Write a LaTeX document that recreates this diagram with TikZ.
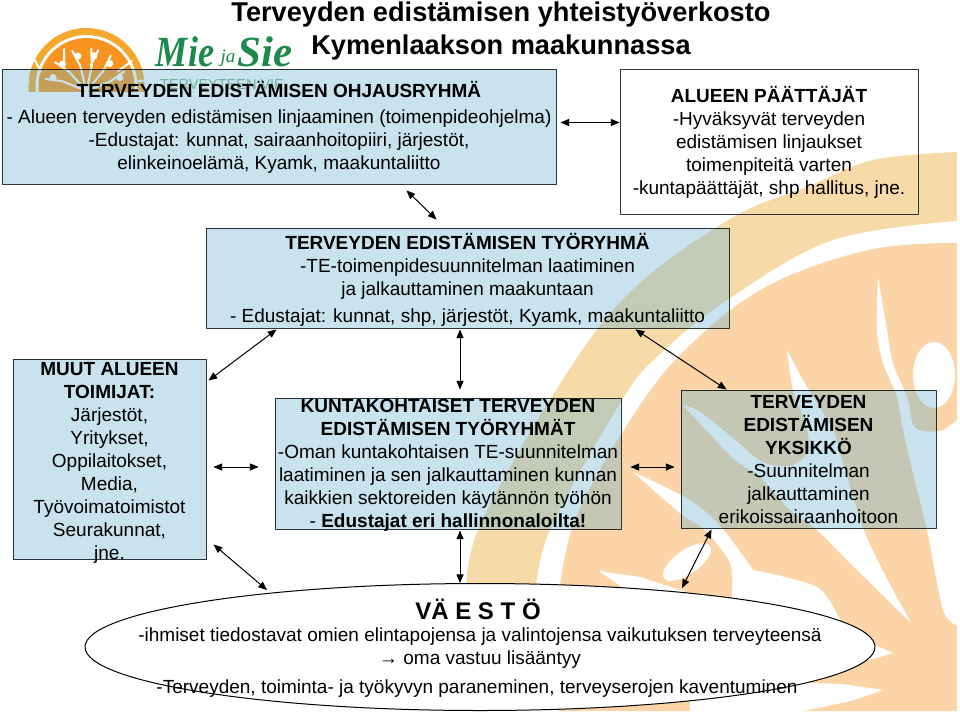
\documentclass[tikz,border=0pt]{standalone}
\usepackage{fontspec}
\setmainfont{Liberation Sans}
\newfontfamily\logofont{Liberation Serif}
\usepackage{tikz}
\usetikzlibrary{arrows}
\usetikzlibrary{shapes.geometric}
\definecolor{BoxBlue}{HTML}{C8E3EE}
\definecolor{BoxLine}{HTML}{2C373C}
\definecolor{BandOrange}{HTML}{F6DAA8}
\definecolor{PeachOrange}{HTML}{FBD4A8}
\definecolor{LogoRing}{HTML}{F4A92E}
\definecolor{LogoFill}{HTML}{F7931E}
\definecolor{LogoGreen}{HTML}{1B8A4B}
\tikzset{
  bluebox/.style={draw=BoxLine,line width=1pt,fill=BoxBlue,blend mode=multiply,preaction={fill=white,fill opacity=.3,blend mode=normal},inner sep=0pt},
  plainbox/.style={draw=BoxLine,line width=1pt,inner sep=0pt},
  lines/.style={align=center,inner sep=0pt,font=\fontsize{19}{23}\selectfont},
  twoway/.style={<->,line width=1pt,color=black}
}
\begin{document}
\begin{tikzpicture}[line cap=round,line join=round,>=triangle 45,x=1pt,y=-1pt]
\useasboundingbox (0,0) rectangle (960,712);
% swoosh behind the boxes
\fill [BandOrange] plot[smooth,tension=.6] coordinates {(957,152) (873,160) (807,187) (730,219) (627,295) (551,398) (478,530) (466,600)} -- plot[smooth,tension=.6] coordinates {(535,600) (550,530) (622,400) (661,353) (730,298) (833,240) (957,221)} -- cycle;
\fill [PeachOrange] plot[smooth,tension=.6] coordinates {(957,243) (868,250) (764,288) (682,353) (627,425) (575,520) (558,600)} -- (558,711) -- (957,711) -- cycle;
\fill [white] plot[smooth,tension=.5] coordinates {(633,472) (690,500) (722,528) (753,570)} -- plot[smooth,tension=.5] coordinates {(753,570) (817,587) (840,620)} -- (780,640) -- (732,620) -- plot[smooth,tension=.5] coordinates {(732,593) (730,563) (705,530) (681,514) (633,472)} -- cycle;
\fill [white] plot[smooth,tension=.5] coordinates {(787,350) (800,375) (810,392) (833,430) (843,463) (863,528) (885,575) (911,623)} -- plot[smooth,tension=.5] coordinates {(911,623) (850,563) (817,530) (790,510) (760,477) (733,458) (683,405)} -- plot[smooth,tension=.5] coordinates {(683,405) (700,412) (733,438) (762,462) (790,466) (808,452) (806,425) (793,390) (787,350)} -- cycle;
\fill [white] plot[smooth,tension=.5] coordinates {(878,277) (877,330) (883,363) (897,397) (903,430) (913,473) (927,530) (943,610) (957,625)} -- (960,625) -- (960,420) -- plot[smooth,tension=.5] coordinates {(957,420) (940,431) (915,428) (908,400) (893,363) (887,330) (878,277)} -- cycle;
\fill [white] (934,375) ellipse (21 and 33);
\fill [white,rotate around={35:(687,562)}] (687,562) ellipse (28 and 12);
\fill [white] (599,571) -- (640,577) -- (686,592) -- (640,600) -- cycle;
\fill [white] (875,645) -- (893,653) -- (880,657) -- (868,660) -- cycle;
\fill [white] plot[smooth,tension=.5] coordinates {(883,690) (840,684) (790,683)} -- (690,690) -- (690,712) -- (803,712) -- plot[smooth,tension=.5] coordinates {(803,711) (850,701) (883,690)} -- cycle;
% logo
\begin{scope}
\clip (0,0) rectangle (300,91);
\fill [LogoRing] (86.5,86) circle (58);
\fill [white] (86.5,86) circle (51);
\fill [LogoFill] (86.5,86) circle (48);
\foreach \a in {22,50,78,104,132,158}
\draw [white,line width=2pt] (86.5,91) -- ++(-\a:26) -- ++(-\a-14:17) ++(\a+14:17) -- ++(-\a+14:17);
\foreach \a in {22,50,78,104,132,158}
\fill [white] (86.5,91) ++(-\a:36) circle (3.6);
\end{scope}
\node [transform shape,xscale=.84] (mie) at (185,52) {\logofont\bfseries\itshape\fontsize{43}{43}\selectfont\color{LogoGreen}Mie};
\node (ja) at (228,58) {\logofont\itshape\fontsize{19}{19}\selectfont\color{LogoGreen}ja};
\node (sie) at (265,52) {\logofont\bfseries\itshape\fontsize{43}{43}\selectfont\color{LogoGreen}Sie};
\node (tervviesti) at (222,85) {\fontsize{14.5}{15}\selectfont\color{LogoGreen!70!white}TERVEYTEEN VIE};
% title
\node [align=center,inner sep=0pt,font=\bfseries\fontsize{27.2}{33}\selectfont] (otsikko) at (501,31) {Terveyden edistämisen yhteistyöverkosto\\Kymenlaakson maakunnassa};
% boxes
\node [bluebox,minimum width=554pt,minimum height=115pt] (ohjaus) at (279,126.5) {};
\node [plainbox,minimum width=298pt,minimum height=145pt] (paattajat) at (769,141.5) {};
\node [bluebox,minimum width=523pt,minimum height=100pt] (tyoryhma) at (467.5,278) {};
\node [bluebox,minimum width=193pt,minimum height=200pt] (muut) at (109.5,459) {};
\node [bluebox,minimum width=346pt,minimum height=131pt] (kunta) at (448,463.5) {};
\node [bluebox,minimum width=255pt,minimum height=138pt] (yksikko) at (808.5,459) {};
\node [draw=black,line width=1pt,fill=white,shape=ellipse,inner sep=0pt,minimum width=790pt,minimum height=127pt] (vaesto) at (480,647) {};
% texts
\node [lines] (ohjausteksti) at ([yshift=-1pt]ohjaus) {\textbf{TERVEYDEN EDISTÄMISEN OHJAUSRYHMÄ}\\[3pt]- Alueen terveyden edistämisen linjaaminen (toimenpideohjelma)\\-Edustajat: kunnat, sairaanhoitopiiri, järjestöt,\\elinkeinoelämä, Kyamk, maakuntaliitto};
\node [lines] (paattajatteksti) at ([yshift=-1pt]paattajat) {\textbf{ALUEEN PÄÄTTÄJÄT}\\-Hyväksyvät terveyden\\edistämisen linjaukset\\toimenpiteitä varten\\-kuntapäättäjät, shp hallitus, jne.};
\node [lines] (tyoryhmateksti) at ([yshift=-2pt]tyoryhma) {\textbf{TERVEYDEN EDISTÄMISEN TYÖRYHMÄ}\\-TE-toimenpidesuunnitelman laatiminen\\ja jalkauttaminen maakuntaan\\[4pt]- Edustajat: kunnat, shp, järjestöt, Kyamk, maakuntaliitto};
\node [lines] (muutteksti) at ([yshift=-4pt]muut) {\textbf{MUUT ALUEEN}\\\textbf{TOIMIJAT:}\\Järjestöt,\\Yritykset,\\Oppilaitokset,\\Media,\\Työvoimatoimistot\\Seurakunnat,\\jne.};
\node [lines] (kuntateksti) at ([yshift=-2pt]kunta) {\textbf{KUNTAKOHTAISET TERVEYDEN}\\\textbf{EDISTÄMISEN TYÖRYHMÄT}\\-Oman kuntakohtaisen TE-suunnitelman\\laatiminen ja sen jalkauttaminen kunnan\\kaikkien sektoreiden käytännön työhön\\- \textbf{Edustajat eri hallinnonaloilta!}};
\node [lines] (yksikkoteksti) at ([yshift=-.5pt]yksikko) {\textbf{TERVEYDEN}\\\textbf{EDISTÄMISEN}\\\textbf{YKSIKKÖ}\\-Suunnitelman\\jalkauttaminen\\erikoissairaanhoitoon};
\node [inner sep=0pt,font=\bfseries\fontsize{24}{24}\selectfont] (vaestootsikko) at (478,609) {VÄ E S T Ö};
\node [lines] (vaestorivit) at (480,648) {-ihmiset tiedostavat omien elintapojensa ja valintojensa vaikutuksen terveyteensä\\→ oma vastuu lisääntyy};
\node [lines] (vaestorivi) at (477,689) {-Terveyden, toiminta- ja työkyvyn paraneminen, terveyserojen kaventuminen};
% connectors
\draw [twoway] ([xshift=4pt,yshift=4pt]ohjaus.east) -- ([yshift=19pt]paattajat.west);
\draw [twoway] ([xshift=405pt,yshift=-6pt]ohjaus.south west) -- ([xshift=231pt,yshift=8pt]tyoryhma.north west);
\draw [twoway] ([xshift=71pt,yshift=-1pt]tyoryhma.south west) -- ([xshift=2pt,yshift=-22pt]muut.north east);
\draw [twoway] ([yshift=-1pt,xshift=-7.5pt]tyoryhma.south) -- ([xshift=12pt,yshift=8pt]kunta.north);
\draw [twoway] ([xshift=430pt,yshift=-1pt]tyoryhma.south west) -- ([xshift=46pt,yshift=0pt]yksikko.north west);
\draw [twoway] ([xshift=7pt,yshift=-8pt]muut.east) -- ([xshift=-16pt,yshift=-3.5pt]kunta.west);
\draw [twoway] ([xshift=9pt,yshift=-3.5pt]kunta.east) -- ([xshift=-6pt,yshift=-8pt]yksikko.west);
\draw [twoway] ([xshift=7pt,yshift=15pt]muut.south east) -- ([xshift=-213pt,yshift=-7pt]vaesto.north);
\draw [twoway] ([xshift=12pt,yshift=-1pt]kunta.south) -- ([xshift=-20pt]vaesto.north);
\draw [twoway] ([xshift=31pt,yshift=-1pt]yksikko.south west) -- ([xshift=202pt,yshift=-5pt]vaesto.north);
\end{tikzpicture}
\end{document}
